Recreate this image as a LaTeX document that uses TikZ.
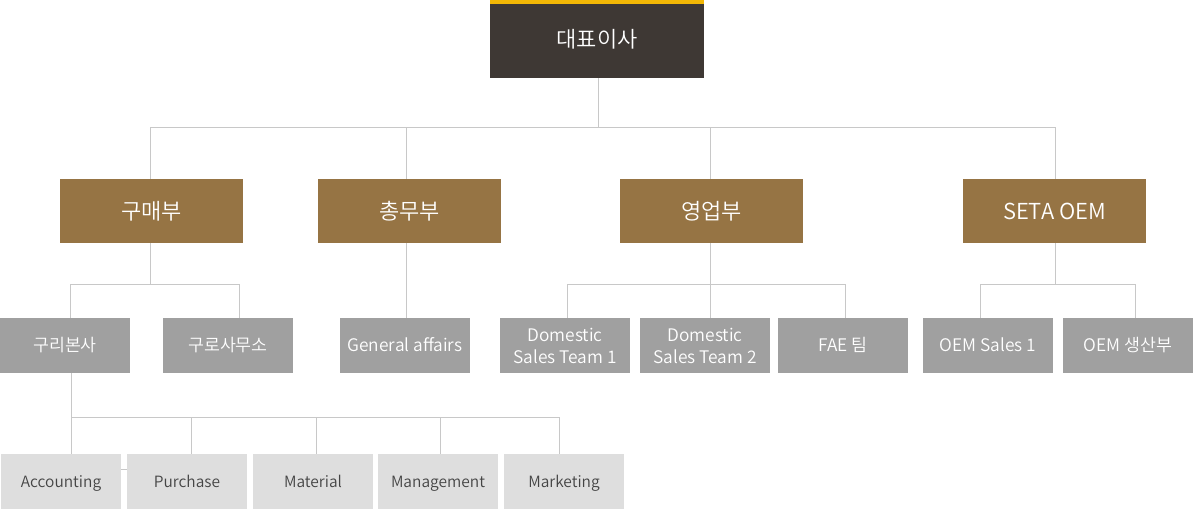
\documentclass[tikz,border=0pt]{standalone}
\usepackage{fontspec}
\setmainfont{Noto Sans CJK KR}[UprightFont={* DemiLight}]
\usetikzlibrary{calc}

\begin{document}
\begin{tikzpicture}[x=1pt, y=-1pt, line width=1pt,
    box/.style={inner sep=0pt, outer sep=0pt, align=center, text=white},
    oneline/.style={text height=#1, text depth=0pt},
    ceobox/.style={box, oneline=16pt, fill=cceo, minimum width=214pt, minimum height=78pt, font=\fontsize{22}{26}\selectfont},
    deptbox/.style={box, oneline=16pt, fill=cdept, minimum width=183pt, minimum height=64pt, font=\fontsize{22}{26}\selectfont},
    teambox/.style={box, fill=cteam, minimum width=130pt, minimum height=55pt, font=\fontsize{17.3}{22}\selectfont},
    unitbox/.style={box, oneline=11.3pt, fill=cunit, minimum width=120pt, minimum height=55pt, text=ctext, font=\fontsize{15.5}{20}\selectfont},
    conn/.style={draw=cline, line width=1pt}]
    \definecolor{cceo}{RGB}{62,56,52}\definecolor{cgold}{RGB}{242,183,5}
    \definecolor{cdept}{RGB}{150,116,68}\definecolor{cteam}{RGB}{160,160,160}
    \definecolor{cunit}{RGB}{222,222,222}\definecolor{cline}{RGB}{200,200,200}
    \definecolor{ctext}{RGB}{68,68,68}
    \useasboundingbox (0,0) rectangle (1193,509);
    \node[ceobox] (ceo) at (597,39) {대표이사};
    \fill[cgold] (ceo.north west) rectangle ([yshift=-4pt]ceo.north east);
    \node[deptbox] (buy)   at (151.5,211)  {구매부};
    \node[deptbox] (ga)    at (409.5,211)  {총무부};
    \node[deptbox] (sales) at (711.5,211)  {영업부};
    \node[deptbox] (oem)   at (1054.5,211) {SETA OEM};
    \node[teambox, oneline=12.7pt] (hq)   at (65,345.5)   {구리본사};
    \node[teambox, oneline=12.7pt] (guro) at (228,345.5)  {구로사무소};
    \node[teambox, oneline=12.7pt] (gen)  at (405,345.5)  {General affairs};
    \node[teambox] (dom1) at (565,345.5)  {Domestic\\Sales Team 1};
    \node[teambox] (dom2) at (705,345.5)  {Domestic\\Sales Team 2};
    \node[teambox, oneline=12.7pt] (fae)  at (843,345.5)  {FAE 팀};
    \node[teambox, oneline=12.7pt] (oems) at (988,345.5)  {OEM Sales 1};
    \node[teambox, oneline=12.7pt] (oemp) at (1128,345.5) {OEM 생산부};
    \node[unitbox] (acc) at (61,481.5)  {Accounting};
    \node[unitbox] (pur) at (187,481.5) {Purchase};
    \node[unitbox] (mat) at (313,481.5) {Material};
    \node[unitbox] (mng) at (438,481.5) {Management};
    \node[unitbox] (mkt) at (564,481.5) {Marketing};
    \coordinate (b1) at (598,127);
    \coordinate (b2) at (0,284);
    \coordinate (b3) at (0,417);
    \draw[conn] (ceo.south -| b1) -- (b1);
    \draw[conn] ([xshift=-1.5pt]buy.north |- b1) -- ([xshift=0.5pt]oem.north |- b1);
    \foreach \n/\dx in {buy/-1.5,ga/-3.5,sales/-1.5,oem/0.5}
      \draw[conn] ([xshift=\dx pt]\n.north |- b1) -- ([xshift=\dx pt]\n.north);
    \foreach \d/\dx in {buy/-1.5,sales/-1.5,oem/0.5}
      \draw[conn] ([xshift=\dx pt]\d.south) -- ([xshift=\dx pt]\d.south |- b2);
    \draw[conn] ([xshift=-3.5pt]ga.south) -- ([xshift=-3.5pt]ga.south |- gen.north);
    \draw[conn] ([xshift=5pt]hq.north |- b2) -- ([xshift=11pt]guro.north |- b2);
    \draw[conn] ([xshift=2pt]dom1.north |- b2) -- ([xshift=2pt]fae.north |- b2);
    \draw[conn] ([xshift=-8pt]oems.north |- b2) -- ([xshift=7pt]oemp.north |- b2);
    \foreach \n/\dx in {hq/5,guro/11,dom1/2,dom2/5,fae/2,oems/-8,oemp/7}
      \draw[conn] ([xshift=\dx pt]\n.north |- b2) -- ([xshift=\dx pt]\n.north);
    \draw[conn] ([xshift=6pt]hq.south) -- ([xshift=6pt]hq.south |- acc.north);
    \draw[conn] ([xshift=6pt]hq.south |- b3) -- ([xshift=-5pt]mkt.north |- b3);
    \foreach \n/\dx in {pur/4,mat/3,mng/2,mkt/-5}
      \draw[conn] ([xshift=\dx pt]\n.north |- b3) -- ([xshift=\dx pt]\n.north);
    \draw[conn] ([yshift=12.5pt]acc.east) -- ([yshift=12.5pt]pur.west);
\end{tikzpicture}
\end{document}
